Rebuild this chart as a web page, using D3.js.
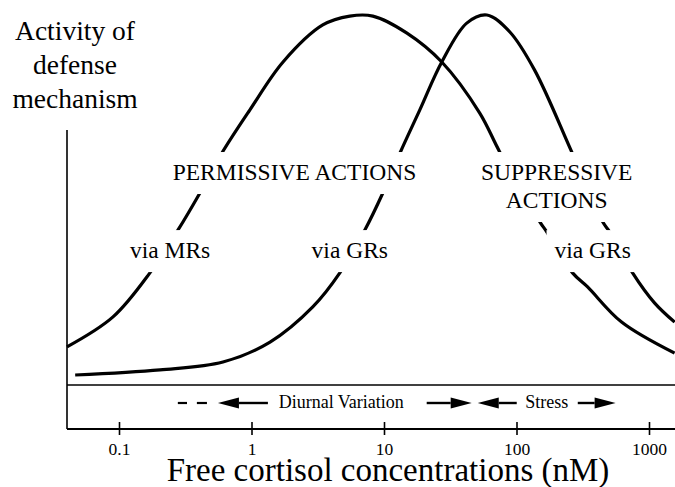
<!DOCTYPE html>
<html>
<head>
<meta charset="utf-8">
<script src="https://cdn.jsdelivr.net/npm/d3@7"></script>
<style>
  body { margin: 0; background: #fff; }
  svg { display: block; font-family: "Liberation Serif", "Times New Roman", serif; }
</style>
</head>
<body>
<svg id="chart" width="675" height="487"></svg>
<script>
// curves: free cortisol (nM) vs relative activity (peak = 100)
const mrConc     = [0.0405, 0.0901, 0.171, 0.279, 0.408, 0.598, 0.97, 1.73, 3.45, 5.52, 8.24, 14.9, 27.3, 52.8, 74.7, 150, 169, 265, 344, 621, 1560]
const mrActivity = [10.3, 18.4, 30.3, 41.9, 51.9, 62.7, 74.3, 87.3, 97.3, 99.7, 99.7, 95.1, 87.3, 73.5, 63.0, 44.1, 41.4, 30.3, 26.5, 17.0, 8.6]
const grConc     = [0.0467, 0.204, 0.609, 1.38, 2.90, 4.64, 7.17, 9.80, 13.2, 18.6, 27.3, 42.1, 59.8, 89.1, 137, 261, 447, 505, 752, 1100, 1560]
const grActivity = [2.7, 4.1, 6.2, 11.6, 21.1, 30.3, 41.9, 51.9, 62.7, 74.3, 87.3, 97.8, 100, 95.4, 85.1, 63.0, 44.1, 41.4, 30.3, 22.2, 17.0]

const tickValues = [0.1, 1, 10, 100, 1000]
const tickLabels = ['0.1', '1', '10', '100', '1000']

// annotation text, anchored at (conc, activity of first baseline)
const curveLabels = [
  { lines: ['PERMISSIVE ACTIONS'], conc: 2.11, act: 55.4 },
  { lines: ['SUPPRESSIVE', 'ACTIONS'], conc: 201, act: 55.4 },
  { lines: ['via MRs'], conc: 0.243, act: 34.3 },
  { lines: ['via GRs'], conc: 5.52, act: 34.3 },
  { lines: ['via GRs'], conc: 376, act: 34.3 }
]

// diurnal / stress band
const bandDashes = [[0.278, 0.326], [0.387, 0.461]]
const bandArrows = [
  { from: 1.33, to: 0.558 },
  { from: 21.0, to: 45.9 },
  { from: 100.4, to: 51.0 },
  { from: 290, to: 560 }
]
const bandLabels = [
  { text: 'Diurnal Variation', conc: 4.76 },
  { text: 'Stress', conc: 169 }
]

const yTitle = ['Activity of', 'defense', 'mechanism']
const xTitle = 'Free cortisol concentrations (nM)'

const left = 67, right = 675, axisTop = 130, bandTop = 385, axisY = 429

const svg = d3.select('#chart')

const x = d3.scaleLog().domain([0.1, 1000]).range([119, 649])
const y = d3.scaleLinear().domain([0, 100]).range([bandTop, 15])

// curves
const line = d3.line()
  .x(d => x(d[0]))
  .y(d => y(d[1]))
  .curve(d3.curveCatmullRom)

svg.append('g')
  .selectAll('path')
  .data([d3.zip(mrConc, mrActivity), d3.zip(grConc, grActivity)])
  .enter()
  .append('path')
  .attr('d', line)
  .attr('fill', 'none')
  .attr('stroke', '#000')
  .attr('stroke-width', 3.2)
  .attr('stroke-linejoin', 'round')

// labels sitting in gaps of the curves
const labelG = svg.append('g')
curveLabels.forEach(l => {
  const g = labelG.append('g')
  const rect = g.append('rect').attr('fill', '#fff')
  const t = g.append('text')
    .attr('text-anchor', 'middle')
    .attr('font-size', 23.5)
  l.lines.forEach((s, i) => {
    t.append('tspan')
      .attr('x', x(l.conc))
      .attr('y', y(l.act) + i * 28)
      .text(s)
  })
  const bb = t.node().getBBox()
  rect.attr('x', bb.x - 8)
    .attr('y', bb.y - 7)
    .attr('width', bb.width + 16)
    .attr('height', bb.height + 16)
})

// frame lines
svg.append('line')
  .attr('x1', left).attr('x2', left)
  .attr('y1', axisTop).attr('y2', axisY)
  .attr('stroke', '#000').attr('stroke-width', 1.6)
svg.append('line')
  .attr('x1', left).attr('x2', right)
  .attr('y1', bandTop).attr('y2', bandTop)
  .attr('stroke', '#000').attr('stroke-width', 1.6)
svg.append('line')
  .attr('x1', left).attr('x2', right)
  .attr('y1', axisY).attr('y2', axisY)
  .attr('stroke', '#000').attr('stroke-width', 2)

// x axis
const axisG = svg.append('g')
  .attr('transform', `translate(0,${axisY})`)
  .call(d3.axisBottom(x).tickValues(tickValues).tickFormat((d, i) => tickLabels[i]))
axisG.attr('font-family', null)
axisG.select('.domain').remove()
axisG.selectAll('.tick line')
  .attr('y1', -7).attr('y2', 6)
  .attr('stroke-width', 1.6)
axisG.selectAll('.tick text')
  .attr('y', 26).attr('dy', null)
  .attr('font-size', 17.5)
  .attr('fill', '#000')

// band annotations
const bandY = 403
const band = svg.append('g')
band.selectAll('.dash')
  .data(bandDashes)
  .enter()
  .append('line')
  .attr('x1', d => x(d[0])).attr('x2', d => x(d[1]))
  .attr('y1', bandY).attr('y2', bandY)
  .attr('stroke', '#000').attr('stroke-width', 2.2)

const headLen = 21, headHalf = 5.5
bandArrows.forEach(a => {
  const x0 = x(a.from), x1 = x(a.to)
  const dir = x1 > x0 ? 1 : -1
  band.append('line')
    .attr('x1', x0).attr('x2', x1 - dir * headLen)
    .attr('y1', bandY).attr('y2', bandY)
    .attr('stroke', '#000').attr('stroke-width', 2.4)
  band.append('path')
    .attr('d', `M${x1},${bandY}L${x1 - dir * headLen},${bandY - headHalf}L${x1 - dir * headLen},${bandY + headHalf}Z`)
    .attr('fill', '#000')
})

band.selectAll('text')
  .data(bandLabels)
  .enter()
  .append('text')
  .attr('x', d => x(d.conc))
  .attr('y', bandY + 5)
  .attr('text-anchor', 'middle')
  .attr('font-size', 18)
  .text(d => d.text)

// titles
svg.append('text')
  .attr('text-anchor', 'middle')
  .attr('font-size', 27.5)
  .selectAll('tspan')
  .data(yTitle)
  .enter()
  .append('tspan')
  .attr('x', 75)
  .attr('y', (d, i) => 40 + i * 34)
  .text(d => d)

svg.append('text')
  .attr('x', 388)
  .attr('y', 481)
  .attr('text-anchor', 'middle')
  .attr('font-size', 33)
  .text(xTitle)
</script>
</body>
</html>
